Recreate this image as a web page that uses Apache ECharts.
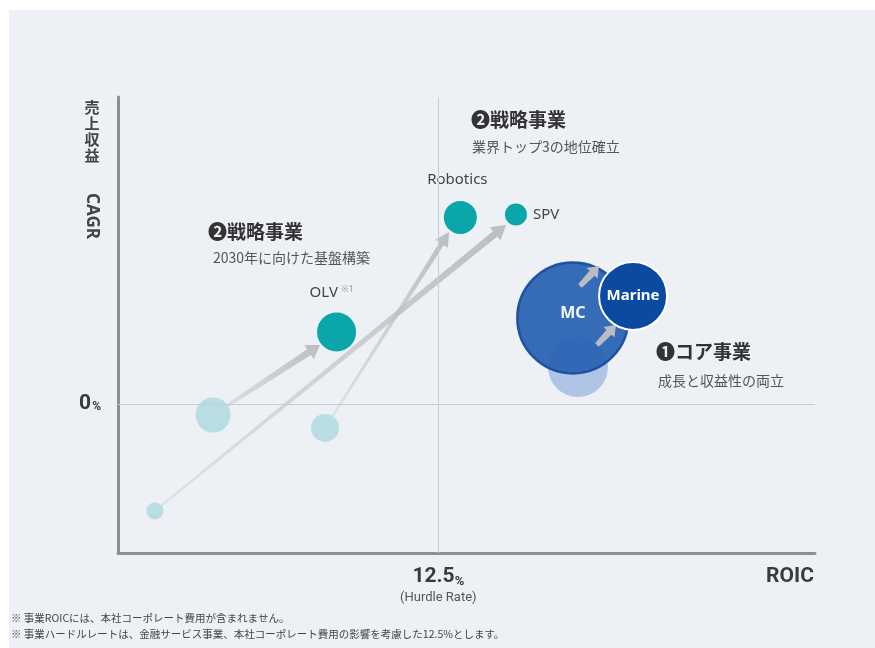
<!DOCTYPE html>
<html><head><meta charset="utf-8">
<script src="https://cdn.jsdelivr.net/npm/echarts@6/dist/echarts.min.js"></script>
<style>html,body{margin:0;padding:0;background:#fff}#c{width:875px;height:648px}</style>
</head><body><div id="c"></div>
<script>
// ---- data ----
const hurdleRate = 12.5;              // ROIC hurdle (%)
const xTickLabels = ['12.5%', '(Hurdle Rate)'];
const yTickLabel = '0%';
// current positions (ROIC, CAGR) and bubble scale
const bubbleNames = ['OLV', 'Robotics', 'SPV', 'MC', 'Marine'];
const bubbleRoic  = [8.53, 13.36, 15.53, 17.75, 20.10];
const bubbleCagr  = [4.83, 12.52, 12.72, 5.77, 7.25];
const bubbleScale = [39, 33, 22, 111, 68];
// previous positions
const prevNames = ['OLV', 'Robotics', 'SPV', 'MC'];
const prevRoic  = [3.71, 8.08, 1.44, 17.95];
const prevCagr  = [-0.74, -1.61, -7.18, 2.48];
const prevScale = [35, 28, 17, 60];
// arrows (from -> to)
const arrowFromRoic = [3.71, 8.08, 1.44];
const arrowFromCagr = [-0.74, -1.61, -7.18];
const arrowToRoic   = [7.88, 12.92, 15.14];
const arrowToCagr   = [3.96, 11.54, 12.01];
const coreArrowFromRoic = [18.03, 18.69];
const coreArrowFromCagr = [7.92, 3.96];
const coreArrowToRoic   = [18.77, 19.43];
const coreArrowToCagr   = [9.26, 5.30];

// ---- styles ----
const longArrowStyle = [
  {w0: 3, w1: 7, wh: 17, hl: 13},
  {w0: 2, w1: 5, wh: 15, hl: 14},
  {w0: 2, w1: 7, wh: 17, hl: 14}
];
const coreArrowStyle = [
  {w0: 5, w1: 7, wh: 15, hl: 10},
  {w0: 5, w1: 7, wh: 15, hl: 10}
];
const JP = '"Noto Sans CJK JP", "Noto Sans", sans-serif';
const LAT = '"Noto Sans", "Noto Sans CJK JP", sans-serif';
const COND = '"Liberation Sans Narrow", Roboto, sans-serif';

function arrowRender(styles, faded) {
  return function (params, api) {
    const p0 = api.coord([api.value(0), api.value(1)]);
    const p1 = api.coord([api.value(2), api.value(3)]);
    const s = styles[params.dataIndex];
    const dx = p1[0] - p0[0], dy = p1[1] - p0[1];
    const L = Math.hypot(dx, dy);
    const ux = dx / L, uy = dy / L, nx = -uy, ny = ux;
    const bx = p1[0] - ux * s.hl, by = p1[1] - uy * s.hl;
    const pts = [
      [p0[0] + nx * s.w0 / 2, p0[1] + ny * s.w0 / 2],
      [bx + nx * s.w1 / 2, by + ny * s.w1 / 2],
      [bx + nx * s.wh / 2, by + ny * s.wh / 2],
      [p1[0], p1[1]],
      [bx - nx * s.wh / 2, by - ny * s.wh / 2],
      [bx - nx * s.w1 / 2, by - ny * s.w1 / 2],
      [p0[0] - nx * s.w0 / 2, p0[1] - ny * s.w0 / 2]
    ];
    const fill = faded
      ? new echarts.graphic.LinearGradient(p0[0], p0[1], p1[0], p1[1], [
          {offset: 0, color: 'rgba(195,197,200,0.35)'},
          {offset: 1, color: 'rgba(185,187,190,0.95)'}], true)
      : '#b9bcc0';
    return {type: 'polygon', shape: {points: pts}, style: {fill: fill}};
  };
}

const chart = echarts.init(document.getElementById('c'), null, {renderer: 'canvas'});

const teal = '#0aa6a9', tealFade = '#b8dee3';

const option = {
  backgroundColor: '#ffffff',
  animation: false,
  grid: {left: 118, right: 60, top: 97, bottom: 95},
  xAxis: {
    type: 'value', min: 0, max: 27.2, interval: hurdleRate,
    axisLine: {show: true, onZero: false, lineStyle: {color: '#8f8f8f', width: 3}},
    axisTick: {show: false}, splitLine: {show: false},
    axisLabel: {
      showMinLabel: false, showMaxLabel: false, margin: 12,
      formatter: v => Math.abs(v - hurdleRate) < 1e-6
        ? '{a|' + xTickLabels[0].replace('%', '') + '}{b|%}\n{c|' + xTickLabels[1] + '}' : '',
      rich: {
        a: {fontFamily: COND, fontWeight: 'bold', fontSize: 21, color: '#3a3a3a', lineHeight: 23},
        b: {fontFamily: COND, fontWeight: 'bold', fontSize: 13, color: '#3a3a3a', lineHeight: 23, verticalAlign: 'bottom'},
        c: {fontFamily: COND, fontSize: 13, color: '#555', lineHeight: 19, align: 'center'}
      }
    }
  },
  yAxis: {
    type: 'value', min: -10, max: 20.6, interval: 10,
    axisLine: {show: true, onZero: false, lineStyle: {color: '#8f8f8f', width: 3}},
    axisTick: {show: false}, splitLine: {show: false},
    axisLabel: {
      showMinLabel: false, showMaxLabel: false, margin: 17,
      formatter: v => v === 0 ? '{a|' + yTickLabel.replace('%', '') + '}{b|%}' : '',
      rich: {
        a: {fontFamily: COND, fontWeight: 'bold', fontSize: 21, color: '#3a3a3a'},
        b: {fontFamily: COND, fontWeight: 'bold', fontSize: 12, color: '#3a3a3a', verticalAlign: 'bottom', padding: [0, 0, 1, 1]}
      }
    }
  },
  graphic: [
    {type: 'rect', z: -10, shape: {x: 9, y: 10, width: 866, height: 638}, style: {fill: '#edf0f5'}},
    {type: 'text', x: 92, y: 99, style: {text: '売\n上\n収\n益', fontFamily: JP, fontWeight: 'bold', fontSize: 15, lineHeight: 16, fill: '#444', align: 'center'}},
    {type: 'text', x: 92, y: 216, rotation: -Math.PI / 2, style: {text: 'CAGR', fontFamily: LAT, fontWeight: 'bold', fontSize: 17, fill: '#444', align: 'center', verticalAlign: 'middle'}},
    {type: 'text', x: 790, y: 577, style: {text: 'ROIC', fontFamily: COND, fontWeight: 'bold', fontSize: 21, fill: '#3a3a3a', align: 'center', verticalAlign: 'middle'}},
    {type: 'text', x: 471, y: 120, style: {text: '❷戦略事業', fontFamily: JP, fontWeight: 'bold', fontSize: 19, fill: '#333', verticalAlign: 'middle'}},
    {type: 'text', x: 472, y: 147, style: {text: '業界トップ3の地位確立', fontFamily: JP, fontSize: 14, fill: '#555', verticalAlign: 'middle'}},
    {type: 'text', x: 208, y: 232, style: {text: '❷戦略事業', fontFamily: JP, fontWeight: 'bold', fontSize: 19, fill: '#333', verticalAlign: 'middle'}},
    {type: 'text', x: 213, y: 258, style: {text: '2030年に向けた基盤構築', fontFamily: JP, fontSize: 14, fill: '#555', verticalAlign: 'middle'}},
    {type: 'text', x: 656, y: 352, style: {text: '❶コア事業', fontFamily: JP, fontWeight: 'bold', fontSize: 19, fill: '#333', verticalAlign: 'middle'}},
    {type: 'text', x: 658, y: 381, style: {text: '成長と収益性の両立', fontFamily: JP, fontSize: 14, fill: '#555', verticalAlign: 'middle'}},
    {type: 'text', x: 11, y: 618, style: {text: '※ 事業ROICには、本社コーポレート費用が含まれません。', fontFamily: JP, fontSize: 10.5, fill: '#444', verticalAlign: 'middle'}},
    {type: 'text', x: 11, y: 634, style: {text: '※ 事業ハードルレートは、金融サービス事業、本社コーポレート費用の影響を考慮した12.5%とします。', fontFamily: JP, fontSize: 10.5, fill: '#444', verticalAlign: 'middle'}}
  ],
  series: [
    {
      type: 'custom', name: 'arrows', z: 1, coordinateSystem: 'cartesian2d',
      renderItem: arrowRender(longArrowStyle, true),
      data: arrowFromRoic.map((v, i) => [v, arrowFromCagr[i], arrowToRoic[i], arrowToCagr[i]]),
      markLine: {
        silent: true, symbol: 'none', label: {show: false},
        lineStyle: {color: '#c9ccd0', width: 1, type: 'solid'},
        data: [{xAxis: hurdleRate}, {yAxis: 0}]
      }
    },
    {
      type: 'scatter', name: 'prev', z: 2,
      data: prevNames.slice(0, 3).map((n, i) => ({name: n, value: [prevRoic[i], prevCagr[i]], symbolSize: prevScale[i]})),
      itemStyle: {color: tealFade, opacity: 1}
    },
    {
      type: 'scatter', name: 'current', z: 3,
      data: bubbleNames.slice(0, 3).map((n, i) => ({name: n, value: [bubbleRoic[i], bubbleCagr[i]], symbolSize: bubbleScale[i]})),
      itemStyle: {color: teal, opacity: 1},
      label: {
        show: true,
        fontFamily: LAT, fontSize: 15, color: '#444',
        formatter: p => p.name === 'OLV' ? '{a|OLV}{b|※1}' : p.name,
        rich: {a: {fontFamily: LAT, fontSize: 15, color: '#444'}, b: {fontSize: 9, color: '#999', verticalAlign: 'top', padding: [0, 0, 7, 3]}},
        position: 'top', distance: 10
      },
      labelLayout: function (p) {
        if (p.dataIndex === 0) return {dx: -5, dy: -2};
        if (p.dataIndex === 1) return {dx: -3, dy: -4};
        return {};
      }
    },
    {
      type: 'scatter', name: 'prevCore', z: 4,
      data: [{name: prevNames[3], value: [prevRoic[3], prevCagr[3]], symbolSize: prevScale[3]}],
      itemStyle: {color: '#b0c4e5', opacity: 1}
    },
    {
      type: 'scatter', name: 'MC', z: 5,
      data: [{name: bubbleNames[3], value: [bubbleRoic[3], bubbleCagr[3]], symbolSize: bubbleScale[3]}],
      itemStyle: {color: '#2b62b4', opacity: 0.94, borderColor: '#1a4c9c', borderWidth: 2.5},
      label: {show: true, position: 'inside', formatter: '{b}', fontFamily: LAT, fontWeight: 'bold', fontSize: 16, color: '#fff', offset: [0, -5]}
    },
    {
      type: 'custom', name: 'coreArrows', z: 6, coordinateSystem: 'cartesian2d',
      renderItem: arrowRender(coreArrowStyle, false),
      data: coreArrowFromRoic.map((v, i) => [v, coreArrowFromCagr[i], coreArrowToRoic[i], coreArrowToCagr[i]])
    },
    {
      type: 'scatter', name: 'Marine', z: 7,
      data: [{name: bubbleNames[4], value: [bubbleRoic[4], bubbleCagr[4]], symbolSize: bubbleScale[4]}],
      itemStyle: {color: '#0a4aa0', opacity: 1, borderColor: '#ffffff', borderWidth: 2},
      label: {show: true, position: 'inside', formatter: '{b}', fontFamily: LAT, fontWeight: 'bold', fontSize: 15, color: '#fff'}
    }
  ]
};
// SPV label to the right
option.series[2].data[2].label = {position: 'right', distance: 6, offset: [0, -4]};
chart.setOption(option);
</script></body></html>
